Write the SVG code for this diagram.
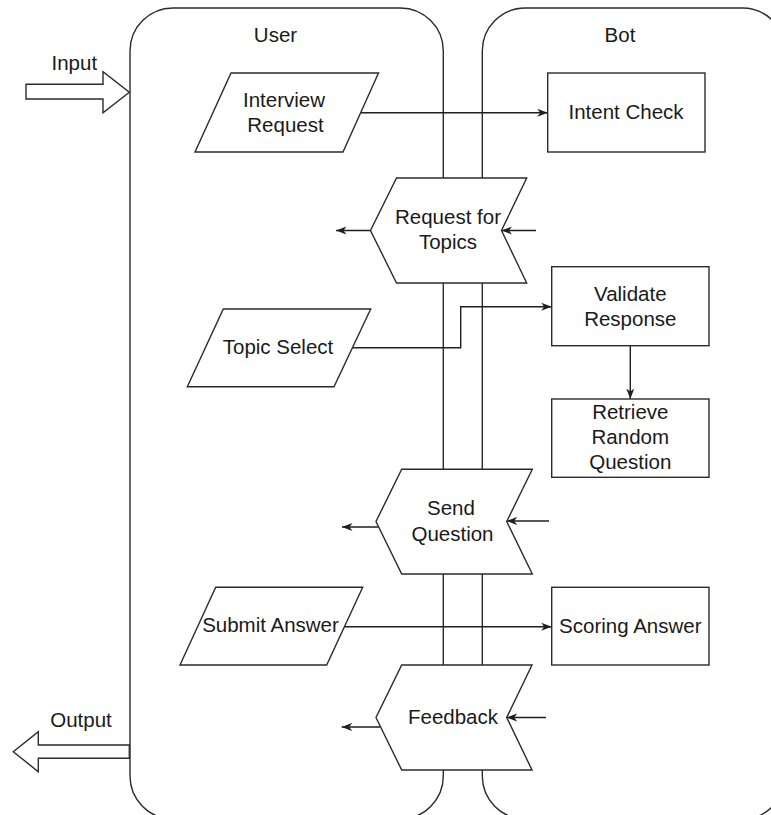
<svg xmlns="http://www.w3.org/2000/svg" width="771" height="815" viewBox="0 0 771 815">
  <style>
    .lane { fill: none; stroke: #2b2b2b; stroke-width: 1.4; }
    .shape { fill: #ffffff; stroke: #2b2b2b; stroke-width: 1.4; }
    .edge { fill: none; stroke: #1f1f1f; stroke-width: 1.4; }
    .label { font-family: "Liberation Sans", Arial, Helvetica, sans-serif; font-size: 20.5px; fill: #1a1a1a; text-anchor: middle; }
  </style>
  <defs>
    <marker id="arrow" markerUnits="userSpaceOnUse" markerWidth="12" markerHeight="10" refX="10.5" refY="4.5" orient="auto">
      <path d="M0,0.5 L10.5,4.5 L0,8.5 L3,4.5 Z" fill="#1f1f1f"/>
    </marker>
  </defs>

  <rect width="771" height="815" fill="#ffffff"/>

  <!-- swimlanes -->
  <g id="lane-user">
    <rect class="lane" x="130" y="8" width="313.3" height="811" rx="43" ry="43"/>
    <text class="label" x="275.5" y="41.7">User</text>
  </g>
  <g id="lane-bot">
    <rect class="lane" x="482.3" y="8" width="303" height="811" rx="43" ry="43"/>
    <text class="label" x="620" y="41.7">Bot</text>
  </g>

  <!-- input / output block arrows -->
  <g id="input">
    <path class="shape" d="M26,84.3 L103,84.3 L103,71.7 L129.3,92.3 L103,112.7 L103,99 L26,99 Z"/>
    <text class="label" x="74.3" y="70">Input</text>
  </g>
  <g id="output">
    <path class="shape" d="M129.3,745 L38.3,745 L38.3,731.7 L13.3,751.7 L38.3,771.7 L38.3,758.3 L129.3,758.3 Z"/>
    <text class="label" x="81" y="726.7">Output</text>
  </g>

  <!-- connectors -->
  <g id="connectors">
    <line class="edge" x1="360.7" y1="112.8" x2="547.7" y2="112.8" marker-end="url(#arrow)"/>
    <polyline class="edge" points="351.7,347.7 460.7,347.7 460.7,306.7 551.7,306.7" marker-end="url(#arrow)"/>
    <line class="edge" x1="630.3" y1="345.7" x2="630.3" y2="399" marker-end="url(#arrow)"/>
    <line class="edge" x1="343.3" y1="626.7" x2="551.7" y2="626.7" marker-end="url(#arrow)"/>

    <line class="edge" x1="370.5" y1="230.5" x2="336" y2="230.5" marker-end="url(#arrow)"/>
    <line class="edge" x1="536" y1="230.5" x2="501.5" y2="230.5" marker-end="url(#arrow)"/>

    <line class="edge" x1="378.5" y1="527" x2="342" y2="527" marker-end="url(#arrow)"/>
    <line class="edge" x1="549" y1="521" x2="506.7" y2="521" marker-end="url(#arrow)"/>

    <line class="edge" x1="380" y1="727" x2="341.7" y2="727" marker-end="url(#arrow)"/>
    <line class="edge" x1="546" y1="717.5" x2="506.7" y2="717.5" marker-end="url(#arrow)"/>
  </g>

  <!-- user side inputs -->
  <g id="interview-request">
    <polygon class="shape" points="231,73 378.5,73 343,152 195,152"/>
    <text class="label" x="284" y="107.3">Interview</text>
    <text class="label" x="285.5" y="132.3">Request</text>
  </g>
  <g id="topic-select">
    <polygon class="shape" points="223.3,309 370.7,309 334,386.7 187.3,386.7"/>
    <text class="label" x="278" y="354">Topic Select</text>
  </g>
  <g id="submit-answer">
    <polygon class="shape" points="215.7,587.3 362.7,587.3 326.7,665 180,665"/>
    <text class="label" x="270.5" y="632">Submit Answer</text>
  </g>

  <!-- bot processes -->
  <g id="intent-check">
    <rect class="shape" x="547.7" y="73" width="157.3" height="79"/>
    <text class="label" x="626" y="119">Intent Check</text>
  </g>
  <g id="validate-response">
    <rect class="shape" x="551.7" y="266.7" width="157.3" height="79"/>
    <text class="label" x="630.3" y="300.7">Validate</text>
    <text class="label" x="630.3" y="325.7">Response</text>
  </g>
  <g id="retrieve-question">
    <rect class="shape" x="551.7" y="399" width="157.3" height="78.3"/>
    <text class="label" x="630.3" y="419.3">Retrieve</text>
    <text class="label" x="630.3" y="444.3">Random</text>
    <text class="label" x="630.3" y="468.5">Question</text>
  </g>
  <g id="scoring-answer">
    <rect class="shape" x="551.7" y="587.3" width="157.3" height="77.7"/>
    <text class="label" x="630.3" y="633">Scoring Answer</text>
  </g>

  <!-- bot-to-user outputs -->
  <g id="request-topics">
    <polygon class="shape" points="396.5,178 526.7,178 501.5,230.5 526.7,283 396.5,283 370.5,230.5"/>
    <text class="label" x="448" y="224">Request for</text>
    <text class="label" x="448" y="248.5">Topics</text>
  </g>
  <g id="send-question">
    <polygon class="shape" points="401.7,469.3 532.3,469.3 506.7,521.5 532.3,574 401.7,574 376,521.5"/>
    <text class="label" x="451" y="515">Send</text>
    <text class="label" x="452.5" y="540.5">Question</text>
  </g>
  <g id="feedback">
    <polygon class="shape" points="401.7,665 532,665 506.7,717.5 532,770 401.7,770 376,717.5"/>
    <text class="label" x="453" y="723.5">Feedback</text>
  </g>
</svg>
